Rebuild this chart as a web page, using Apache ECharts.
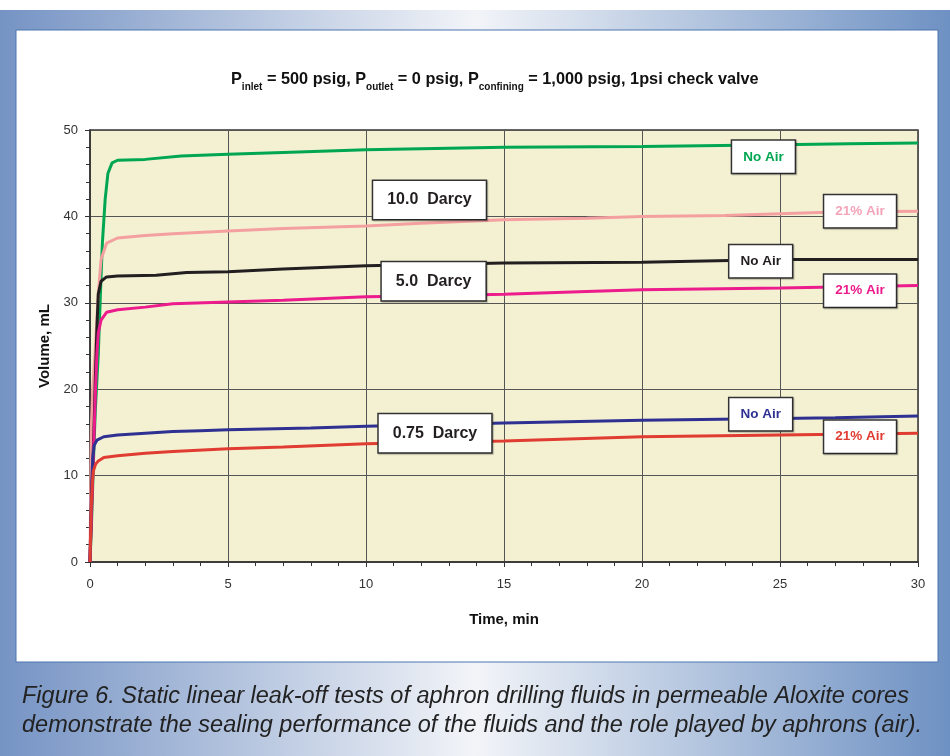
<!DOCTYPE html>
<html><head><meta charset="utf-8">
<script src="https://cdn.jsdelivr.net/npm/echarts@6/dist/echarts.min.js"></script>
<style>html,body{margin:0;padding:0;background:#fff}#c{width:950px;height:756px}</style>
</head><body><div id="c"></div>
<script>
// ---- data ----
const greenT  = [0,0.05,0.1,0.15,0.2,0.3,0.4,0.45,0.55,0.65,0.8,1,2,3.3,5,7,10,15,20,25,27.5,30];
const greenV  = [0,4,9,14,18,24,33,37,42,45,46.2,46.5,46.6,47.0,47.2,47.4,47.7,48.0,48.1,48.3,48.4,48.5];
const pinkT   = [0,0.03,0.05,0.1,0.18,0.3,0.4,0.6,1,2,3,5,7,10,12,15,18,20,23,25,27,30];
const pinkV   = [0,10,15.6,20,24,31,35,36.9,37.5,37.8,38.0,38.3,38.6,38.9,39.2,39.6,39.8,40.0,40.1,40.3,40.5,40.6];
const blackT  = [0,0.05,0.1,0.15,0.2,0.25,0.3,0.4,0.6,1,2.4,3.5,5,7,10,15,20,25,30];
const blackV  = [0,6,11,16,22,27,31,32.5,33,33.1,33.2,33.5,33.6,33.9,34.3,34.6,34.7,35.0,35.0];
const magT    = [0,0.05,0.1,0.15,0.2,0.25,0.3,0.4,0.6,1,2,3,5,7,10,12,15,18,20,25,30];
const magV    = [0,5,10,15,20,24,26.5,28,28.9,29.2,29.5,29.9,30.1,30.3,30.7,30.8,31.0,31.3,31.5,31.7,32.0];
const blueT   = [0,0.03,0.06,0.1,0.15,0.25,0.5,1,2,3,4,5,8,10,15,20,25,27,30];
const blueV   = [0,5,9,12,13.5,14.1,14.5,14.7,14.9,15.1,15.2,15.3,15.5,15.7,16.1,16.4,16.6,16.7,16.9];
const redT    = [0,0.04,0.08,0.12,0.2,0.3,0.5,1,2,3,5,7,10,15,20,25,30];
const redV    = [0,6,9,10.5,11.3,11.7,12.1,12.3,12.6,12.8,13.1,13.3,13.7,14.0,14.5,14.7,14.9];

const xTicks = [0,5,10,15,20,25,30];
const yTicks = [0,10,20,30,40,50];

const labelTexts = ['No Air','21% Air','No Air','21% Air','No Air','21% Air','10.0  Darcy','5.0  Darcy','0.75  Darcy'];
const labelX     = [24.4,27.9,24.3,27.9,24.3,27.9,12.3,12.45,12.5];
const labelY     = [46.9,40.6,34.8,31.4,17.1,14.5,41.9,32.5,14.9];

// ---- styles ----
const colors = ['#00a651','#f4a0a0','#231f20','#ec1c8c','#2e3192','#e03c31'];
const labelColors = ['#00a651','#f4a4b8','#231f20','#ec1c8c','#2e3192','#e03c31','#231f20','#231f20','#231f20'];
const FONT = '"Liberation Sans", Arial, sans-serif';

const zip = (t,v) => t.map((x,i)=>[x,v[i]]);
const seriesData = [zip(greenT,greenV),zip(pinkT,pinkV),zip(blackT,blackV),zip(magT,magV),zip(blueT,blueV),zip(redT,redV)];

const chart = echarts.init(document.getElementById('c'));
const lineSeries = seriesData.map((d,i)=>({
  type:'line', data:d, showSymbol:false, symbol:'none',
  lineStyle:{color:colors[i], width:3}, z:3, animation:false
}));

const labelData = labelTexts.map((t,i)=>{
  const big = i>=6;
  return {
    value:[labelX[i],labelY[i]],
    label:{
      show:true, position:'inside', formatter:t, opacity:1,
      fontFamily:FONT, fontWeight:'bold', fontSize: big?16:13.5,
      color:labelColors[i], backgroundColor:'#ffffff',
      borderColor:'#333', borderWidth:1.5,
      padding: big?[11,14,11,14]:[9,11,9,11],
      shadowColor:'rgba(0,0,0,0.25)', shadowOffsetX:1, shadowOffsetY:1, shadowBlur:1
    }
  };
});

chart.setOption({
  animation:false,
  graphic:[
    {type:'rect', z:-20, shape:{x:0,y:10,width:950,height:746},
     style:{fill:new echarts.graphic.LinearGradient(0,0,1,0,[
       {offset:0,color:'#7593c4'},{offset:0.5,color:'#f2f4f8'},{offset:1,color:'#6e91c3'}])}},
    {type:'rect', z:-19, shape:{x:16,y:30,width:922,height:632},
     style:{fill:'#fff', stroke:'#4a76b0', lineWidth:1}},
    {type:'text', z:5, left:22, top:685,
     style:{text:'Figure 6. Static linear leak-off tests of aphron drilling fluids in permeable Aloxite cores',
            font:'italic 23.5px '+FONT, fill:'#222'}},
    {type:'text', z:5, left:22, top:714,
     style:{text:'demonstrate the sealing performance of the fluids and the role played by aphrons (air).',
            font:'italic 23.5px '+FONT, fill:'#222'}}
  ],
  title:{
    left:226, top:63,
    text:'{m|P}{s|inlet}{m| = 500 psig, P}{s|outlet}{m| = 0 psig, P}{s|confining}{m| = 1,000 psig, 1psi check valve}',
    textStyle:{
      rich:{
        m:{fontFamily:FONT, fontWeight:'bold', fontSize:16.3, color:'#111', lineHeight:24, verticalAlign:'middle'},
        s:{fontFamily:FONT, fontWeight:'bold', fontSize:10, color:'#111', lineHeight:24, verticalAlign:'bottom'}
      }
    }
  },
  grid:{left:90, top:130, width:828, height:432, show:true, backgroundColor:'#f4f1d3', borderColor:'#333', borderWidth:1.5},
  xAxis:{
    type:'value', min:0, max:30, interval:5,
    name:'Time, min', nameLocation:'middle', nameGap:50,
    nameTextStyle:{fontFamily:FONT, fontWeight:'bold', fontSize:15, color:'#111'},
    axisLine:{lineStyle:{color:'#333', width:1.5}},
    axisTick:{show:true, length:5, lineStyle:{color:'#333'}},
    minorTick:{show:true, splitNumber:5, length:4, lineStyle:{color:'#333'}},
    axisLabel:{margin:16, fontFamily:FONT, fontSize:13, color:'#333',
      formatter:v=>xTicks.includes(v)?String(v):''},
    splitLine:{show:true, lineStyle:{color:'#555', width:1}}
  },
  yAxis:{
    type:'value', min:0, max:50, interval:10,
    name:'Volume, mL', nameLocation:'middle', nameGap:36, nameRotate:90,
    nameTextStyle:{fontFamily:FONT, fontWeight:'bold', fontSize:15, color:'#111'},
    axisLine:{show:true, lineStyle:{color:'#333', width:1.5}},
    axisTick:{show:true, length:5, lineStyle:{color:'#333'}},
    minorTick:{show:true, splitNumber:5, length:4, lineStyle:{color:'#333'}},
    axisLabel:{margin:12, fontFamily:FONT, fontSize:13, color:'#333',
      formatter:v=>yTicks.includes(v)?String(v):''},
    splitLine:{show:true, lineStyle:{color:'#555', width:1}}
  },
  series: lineSeries.concat([{
    type:'scatter', data:labelData, symbolSize:0, z:10, animation:false, silent:true,
    itemStyle:{opacity:1}
  }])
});
</script></body></html>
